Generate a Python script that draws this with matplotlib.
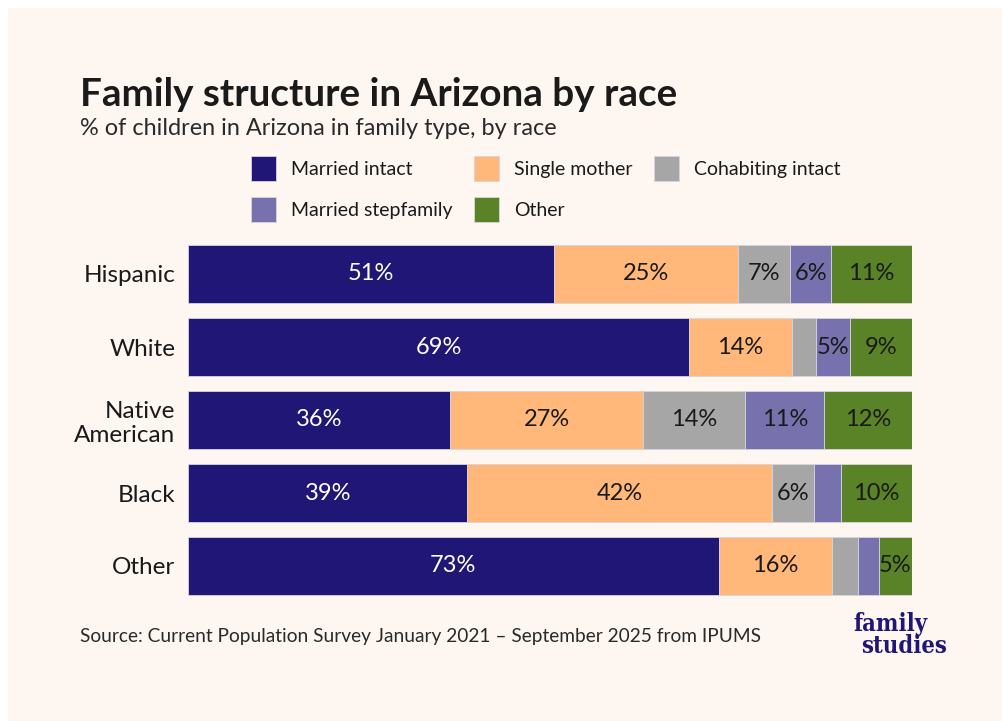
import matplotlib
matplotlib.use("Agg")
import matplotlib.pyplot as plt
from matplotlib.patches import Rectangle

plt.rcParams['font.family'] = ['Lato', 'DejaVu Sans']

races = ["Hispanic", "White", "Native\nAmerican", "Black", "Other"]
types = ["Married intact", "Single mother", "Cohabiting intact",
         "Married stepfamily", "Other"]
colors = ["#1f1676", "#ffb77a", "#a6a6a6", "#7772ad", "#5a8227"]

# percent of children in each family type, rows follow races
married_intact = [50.6, 69.2, 36.2, 38.6, 73.3]
single_mother = [25.4, 14.2, 26.7, 42.1, 15.6]
cohabiting_intact = [7.2, 3.3, 14.1, 5.7, 3.6]
married_stepfamily = [5.6, 4.7, 10.9, 3.8, 2.9]
other = [11.2, 8.6, 12.1, 9.8, 4.6]
series = [married_intact, single_mother, cohabiting_intact,
          married_stepfamily, other]

W, H = 1002, 721
bg = "#fdf6f1"
fig = plt.figure(figsize=(W / 100, H / 100), dpi=100, facecolor="white")
fig.patches.append(Rectangle((8 / W, 0), 1, 1 - 8 / H,
                             transform=fig.transFigure, facecolor=bg,
                             edgecolor="none", zorder=-10))

ax = fig.add_axes([188 / W, 1 - 602.5 / H, 724 / W, 365 / H])
ax.set_facecolor("none")

ypos = list(range(len(races)))
left = [0] * len(races)
bars = []
for name, vals, col in zip(types, series, colors):
    b = ax.barh(ypos, vals, left=left, height=0.795, color=col,
                edgecolor="#d8d4e0", linewidth=0.6, label=name)
    bars.append(b)
    for y, v, l in zip(ypos, vals, left):
        if v >= 4.5:
            ax.text(l + v / 2, y, f"{round(v)}%", ha="center", va="center",
                    fontsize=17,
                    color="white" if col == colors[0] else "#1a1a1a")
    left = [l + v for l, v in zip(left, vals)]

ax.set_xlim(0, 100)
ax.set_ylim(len(races) - 0.5, -0.5)
ax.set_yticks(ypos)
ax.set_yticklabels(races, fontsize=17.5, color="#1a1a1a", linespacing=1.2)
ax.tick_params(axis="y", length=0, pad=9)
ax.set_xticks([])
for s in ax.spines.values():
    s.set_visible(False)

fig.text(80 / W, 1 - 106 / H, "Family structure in Arizona by race",
         fontsize=27.8, fontweight="bold", color="#1a1a1a", va="baseline")
fig.text(80 / W, 1 - 135 / H,
         "% of children in Arizona in family type, by race",
         fontsize=16.9, color="#2a2a2a", va="baseline")

# legend columns: intact/stepfamily, single mother/other, cohabiting
order = [0, 3, 1, 4, 2]
leg = fig.legend([bars[i] for i in order], [types[i] for i in order],
                 ncol=3, loc="upper left",
                 bbox_to_anchor=(251 / W, 1 - 156 / H),
                 frameon=False, fontsize=14, handlelength=1.27,
                 handleheight=1.58, handletextpad=0.79, columnspacing=1.1,
                 labelspacing=0.84, borderaxespad=0, borderpad=0)
for t in leg.get_texts():
    t.set_color("#1a1a1a")

fig.text(80 / W, 1 - 642 / H,
         "Source: Current Population Survey January 2021 \u2013 September 2025 from IPUMS",
         fontsize=13.8, color="#2a2a2a", va="baseline")
logo = dict(fontsize=17, fontweight="bold", color="#1f1676",
            family="DejaVu Serif", fontstretch="condensed", va="baseline")
fig.text(853 / W, 1 - 631 / H, "family", **logo)
fig.text(861 / W, 1 - 653 / H, "studies", **logo)

fig.savefig("out.png", dpi=100, facecolor="white")
